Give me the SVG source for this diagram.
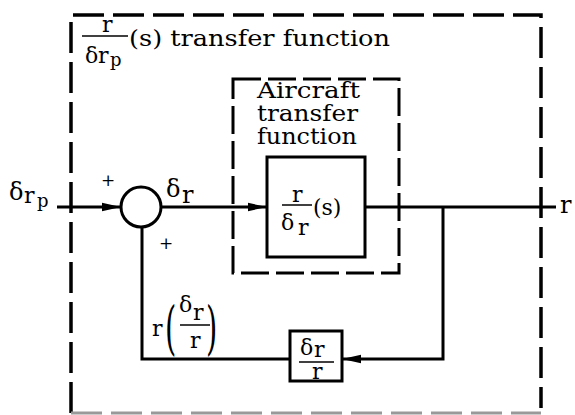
<svg xmlns="http://www.w3.org/2000/svg" width="575" height="415" viewBox="0 0 575 415">
<style>
text{font-family:"DejaVu Serif","Liberation Serif",serif;fill:#000}
.t20{font-size:22px}
.t22{font-size:24px}
.sub{font-size:18px}
.pl{font-size:17px}
.ln{stroke:#000;stroke-width:3;fill:none}
.bar{stroke:#000;stroke-width:1.5}
.dash{stroke:#000;stroke-width:3.5;fill:none;stroke-dasharray:31 9}
.dash2{stroke:#000;stroke-width:3;fill:none;stroke-dasharray:28 7}
.blk{stroke:#000;stroke-width:3;fill:#fff}
</style>
<defs>
<marker id="ah" markerUnits="userSpaceOnUse" markerWidth="20" markerHeight="10" refX="19" refY="5" orient="auto">
<path d="M0,0.8 L19,5 L0,9.2 Z" fill="#000"/>
</marker>
</defs>
<rect width="575" height="415" fill="#fff"/>
<g id="outer-boundary">
<path class="dash" d="M71,413 V15 H541 V408"/>
<line x1="71" y1="413" x2="541" y2="413" stroke="#999" stroke-width="3" stroke-dasharray="31 9"/>
<text class="t20" x="102" y="32">r</text>
<line class="bar" x1="82" y1="36" x2="128" y2="36"/>
<text class="t20" x="85" y="63">δ</text>
<text class="t20" x="98" y="63">r</text>
<text class="sub" x="110" y="66">p</text>
<text class="t20" x="129" y="46" textLength="261" lengthAdjust="spacingAndGlyphs">(s) transfer function</text>
</g>
<g id="aircraft-boundary">
<rect class="dash2" x="233" y="79" width="166" height="194"/>
<text class="t20" x="257" y="98" textLength="103" lengthAdjust="spacingAndGlyphs">Aircraft</text>
<text class="t20" x="257" y="121" textLength="101" lengthAdjust="spacingAndGlyphs">transfer</text>
<text class="t20" x="257" y="144" textLength="100" lengthAdjust="spacingAndGlyphs">function</text>
</g>
<g id="connectors">
<line class="ln" x1="57" y1="207" x2="121" y2="207" marker-end="url(#ah)"/>
<line class="ln" x1="161" y1="207" x2="267" y2="207" marker-end="url(#ah)"/>
<line class="ln" x1="365" y1="207" x2="556" y2="207"/>
<polyline class="ln" points="443,207 443,359 342,359" marker-end="url(#ah)"/>
<polyline class="ln" points="290,359 142,359 142,227"/>
</g>
<g id="input-label">
<text class="t22" x="9" y="200">δ</text>
<text class="t20" x="24" y="203">r</text>
<text class="sub" x="37" y="207">p</text>
</g>
<g id="sum">
<circle cx="141" cy="207" r="20" stroke="#000" stroke-width="3" fill="#fff"/>
<text class="pl" x="101" y="186">+</text>
<text class="pl" x="159" y="249">+</text>
</g>
<g id="delta-r-label">
<text class="t22" x="166" y="197">δ</text>
<text class="t22" x="182" y="203">r</text>
</g>
<g id="aircraft-block">
<rect class="blk" x="267" y="157" width="98" height="100"/>
<text class="t20" x="292" y="202">r</text>
<line class="bar" x1="282" y1="205" x2="312" y2="205"/>
<text class="t20" x="281" y="230">δ</text>
<text class="t20" x="298" y="235">r</text>
<text class="t20" x="313" y="215">(s)</text>
</g>
<g id="output-label">
<text class="t22" x="560" y="213">r</text>
</g>
<g id="feedback-block">
<rect class="blk" x="290" y="331" width="52" height="50"/>
<text class="t20" x="300" y="355">δ</text>
<text class="t20" x="314" y="357">r</text>
<line class="bar" x1="299" y1="362" x2="334" y2="362"/>
<text class="t20" x="312" y="379">r</text>
</g>
<g id="feedback-label">
<text class="t20" x="152" y="336">r</text>
<text x="165" y="348" style="font-size:58px" transform="translate(165,0) scale(0.5,1) translate(-165,0)">(</text>
<text class="t20" x="179" y="312">δ</text>
<text class="t20" x="193" y="320">r</text>
<line class="bar" x1="180" y1="325" x2="210" y2="325"/>
<text class="t20" x="190" y="348">r</text>
<text x="206" y="348" style="font-size:58px" transform="translate(206,0) scale(0.5,1) translate(-206,0)">)</text>
</g>
</svg>
